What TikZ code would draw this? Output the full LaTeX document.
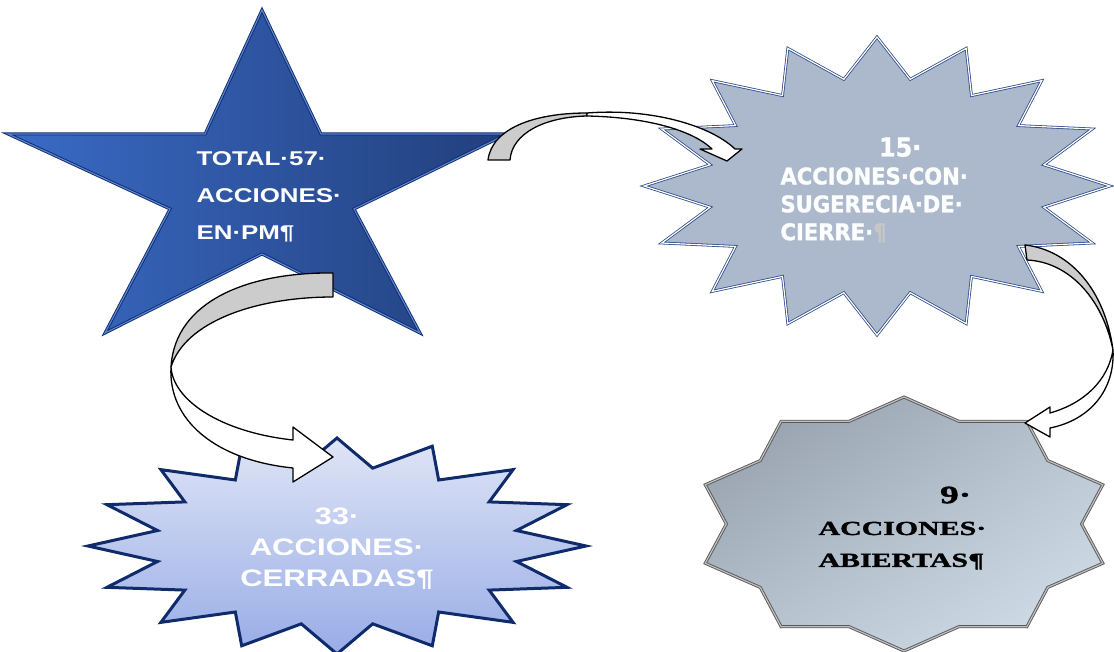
\documentclass[tikz,border=0pt]{standalone}
\usepackage{fontspec}
\usetikzlibrary{shadings}
\setmainfont{Liberation Sans}
\newfontfamily\widefont[FakeStretch=1.3]{Liberation Sans}
\newfontfamily\narrowfont[FakeStretch=0.92,FakeBold=1.5]{DejaVu Sans}
\newfontfamily\capsfont[FakeStretch=1.5,FakeBold=1.6]{Liberation Serif}
\definecolor{starleft}{HTML}{3A6BC6}
\definecolor{starright}{HTML}{223F7C}
\definecolor{navy}{HTML}{0F2B6B}
\definecolor{slate}{HTML}{ACB8CC}
\definecolor{slateline}{HTML}{2E4C8A}
\definecolor{paletop}{HTML}{DFE5F6}
\definecolor{palebottom}{HTML}{98ACE6}
\definecolor{steeldark}{HTML}{8E99A5}
\definecolor{steellight}{HTML}{D6E3EF}
\definecolor{bandgray}{HTML}{CCCCCC}
\tikzset{band/.style={draw=black,line width=1.3bp,line join=round}}
\begin{document}
\begin{tikzpicture}[x=1bp,y=-1bp,line join=miter]
\useasboundingbox (0,0) rectangle (1114,652);
%%
\shadedraw [left color=starleft,right color=starright,draw=navy,double=starleft!85!white,double distance=1.2bp,line width=0.9bp]
  (262,10) -- (321,134) -- (507,134) -- (354,209) -- (420,333) -- (262,254)
  -- (105,333) -- (170,209) -- (8,134) -- (205,134) -- cycle;
\filldraw [shift={(877,186)},fill=slate,draw=slateline,double=white,double distance=1.2bp,line width=0.8bp]
  (0,-149) \foreach \i in {1,...,31} {
    -- ({233*(1-0.27*mod(\i,2))*cos(90+11.25*\i)},{-149*(1-0.27*mod(\i,2))*sin(90+11.25*\i)}) } -- cycle;
\shadedraw [shift={(337,546)},top color=paletop,bottom color=palebottom,draw=navy,line width=3bp]
  (0,-108) \foreach \i in {1,...,31} {
    -- ({249*(1-0.265*mod(\i,2))*cos(90+11.25*\i)},{-108*(1-0.265*mod(\i,2))*sin(90+11.25*\i)}) } -- cycle;
\shadedraw [shift={(904,524)},upper left=steeldark,upper right=steeldark!45!steellight,lower left=steeldark!45!steellight,lower right=steellight,
  draw=black!65,double=black!25,double distance=1.2bp,line width=0.9bp]
  (0,-127) \foreach \i in {1,...,19} {
    -- ({209*(1-0.15*mod(\i,2))*cos(90+18*\i)},{-127*(1-0.15*mod(\i,2))*sin(90+18*\i)}) } -- cycle;
%
\node (node_0) at (193,197) [anchor=west,align=left,text=white,font=\widefont\bfseries\fontsize{20}{37}\selectfont] {TOTAL·57·\\ACCIONES·\\EN·PM¶};
\node (node_1) at (777,190) [anchor=west,align=left,text=white!97!slate,font=\narrowfont\bfseries\fontsize{23}{28}\selectfont]
  {\hspace*{4.3em}{\fontsize{26}{28}\selectfont 15·}\\ACCIONES·CON·\\SUGERECIA·DE·\\CIERRE·\textcolor{black!22}{¶}};
\node (node_2) at (337,549) [align=center,text=white,font=\widefont\bfseries\fontsize{24}{31}\selectfont] {33·\\ACCIONES·\\CERRADAS¶};
\node (node_3) at (815,528) [anchor=west,align=left,text=black,font=\capsfont\bfseries\fontsize{20}{32}\selectfont]
  {\hspace*{6.1em}{\fontsize{25}{32}\selectfont 9·}\\ACCIONES·\\ABIERTAS¶};
%
% curved block arrows: grey back face, then white front face with head
\filldraw [band,fill=bandgray] (488,160) .. controls (492,128) and (535,113) .. (587,113)
  -- (587,116) .. controls (545,117) and (512,133) .. (510,160) -- cycle;
\filldraw [band,fill=white] (587,113) .. controls (650,108) and (710,125) .. (735,149)
  -- (742,149) -- (727,161) -- (700,149) -- (712,149)
  .. controls (690,128) and (640,117) .. (587,116) -- cycle;
\filldraw [band,fill=bandgray] (333,273) .. controls (250,272) and (175,300) .. (171,367)
  .. controls (185,322) and (255,297) .. (333,297) -- cycle;
\filldraw [band,fill=white] (171,367) .. controls (173,400) and (220,432) .. (293,440)
  -- (293,427) -- (333,457) -- (293,482) -- (293,468)
  .. controls (215,460) and (168,420) .. (171,367) -- cycle;
\filldraw [band,fill=bandgray] (1025,245) .. controls (1070,250) and (1105,290) .. (1113,350)
  .. controls (1103,300) and (1070,262) .. (1027,260) -- cycle;
\filldraw [band,fill=white] (1113,350) .. controls (1115,390) and (1090,420) .. (1050,428)
  -- (1050,437) -- (1025,423) -- (1050,407) -- (1050,413)
  .. controls (1085,403) and (1108,380) .. (1113,350) -- cycle;
%
\end{tikzpicture}
\end{document}
